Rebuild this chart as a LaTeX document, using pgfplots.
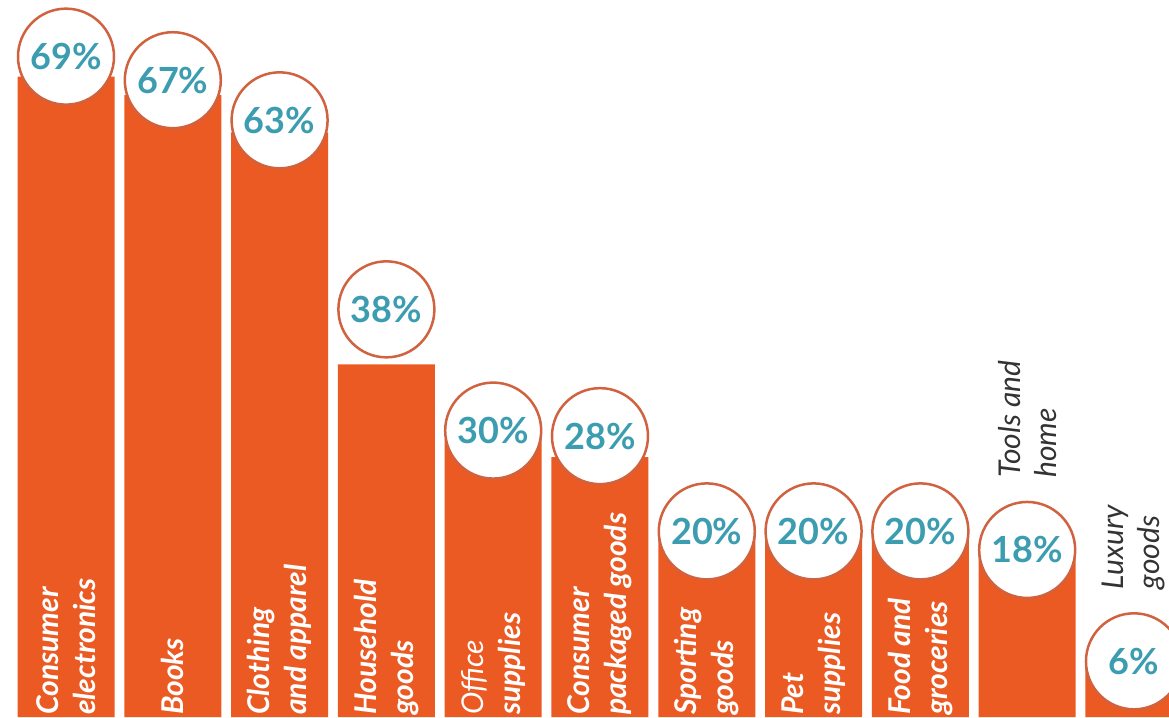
\documentclass[border=0pt]{standalone}
\usepackage{fontspec}
\setmainfont{Lato}
\usepackage{pgfplots}
\pgfplotsset{compat=1.18}
\usepackage{pgfplotstable}
\definecolor{barorange}{HTML}{EA5A22}
\definecolor{ringorange}{HTML}{D0623F}
\definecolor{pctteal}{HTML}{3C9DB1}
\definecolor{darktext}{HTML}{333333}

\pgfplotstableread{
x y off
0 69 20
1 67 15
2 63 12
3 38 55
4 30 8
5 28 21
6 20 0
7 20 0
8 20 0
9 18 0
10 6 0
}\datatable

\pgfplotstableread[col sep=comma]{
x,y,label
9,18,Tools and\\home
10,6,Luxury\\goods
}\toplabels

\begin{document}
\begin{tikzpicture}
\begin{axis}[
  at={(0,0)}, anchor=south west,
  width=1169pt, height=717pt, scale only axis,
  xmin=-0.618, xmax=10.328, ymin=0, ymax=77.26,
  axis line style={draw=none},
  ytick=\empty,
  xtick={0,...,10},
  xticklabels={{Consumer\\electronics},{Books},{Clothing\\and apparel},{Household\\goods},{{\mdseries Office}\\supplies},{Consumer\\packaged goods},{Sporting\\goods},{Pet\\supplies},{Food and\\groceries},{},{}},
  major tick length=0pt,
  xticklabel style={rotate=90, anchor=west, align=left, text=white, font=\bfseries\itshape\fontsize{30}{37}\selectfont, inner sep=2pt},
  axis on top,
  clip=false,
  /pgf/number format/assume math mode=true,
]
\addplot[ybar, bar width=97pt, fill=barorange, draw=none] table[x=x,y=y]{\datatable};

\addplot[only marks, mark=*, mark size=0pt, mark options={draw=none,fill=none},
  visualization depends on={\thisrow{off}\as\off},
  nodes near coords={\pgfmathprintnumber{\pgfplotspointmeta}\%},
  every node near coord/.append style={circle, draw=ringorange, line width=2.5pt, fill=white, minimum size=96pt, inner sep=0pt, anchor=center, yshift=\off, text=pctteal, font=\bfseries\fontsize{36}{36}\selectfont}
] table[x=x,y=y]{\datatable};

\addplot[only marks, mark=*, mark size=0pt, mark options={draw=none,fill=none},
  point meta=explicit symbolic,
  nodes near coords,
  every node near coord/.append style={yshift=72pt, rotate=90, anchor=west, align=left, text=darktext, font=\itshape\fontsize{30}{36}\selectfont, inner sep=0pt}
] table[x=x,y=y,meta=label]{\toplabels};
\end{axis}
\pgfresetboundingbox
\path[use as bounding box] (0,0) rectangle (1169pt,717pt);
\end{tikzpicture}
\end{document}
